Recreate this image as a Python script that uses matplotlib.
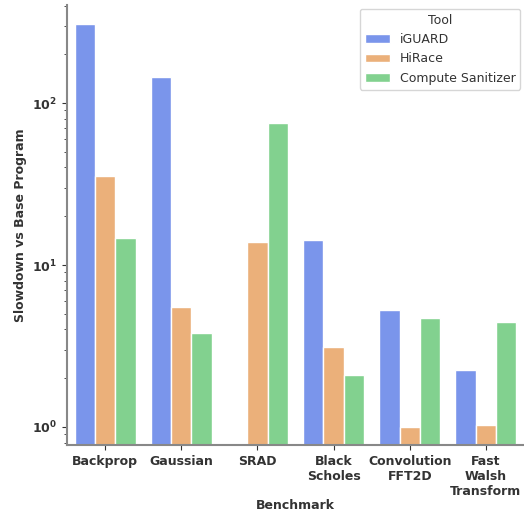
import matplotlib
matplotlib.use("Agg")
import matplotlib.pyplot as plt
import numpy as np
import pandas as pd
import seaborn as sns

# datos (slowdown, escala log)
benchmarks = ["Backprop", "Gaussian", "SRAD", "Black\nScholes", "Convolution\nFFT2D", "Fast\nWalsh\nTransform"]
tools = ["iGUARD", "HiRace", "Compute Sanitizer"]
iguard = [307, 145, np.nan, 14.3, 5.3, 2.25]
hirace = [35.4, 5.5, 13.9, 3.1, 1.0, 1.03]
compute_sanitizer = [14.7, 3.8, 75, 2.1, 4.7, 4.45]
colores = ["#7a95eb", "#ebb07a", "#82d18f"]

df = pd.DataFrame({
    "Benchmark": benchmarks * 3,
    "Tool": [t for t in tools for _ in benchmarks],
    "Slowdown": iguard + hirace + compute_sanitizer,
})

sns.set_style("ticks")
plt.rcParams["text.color"] = "#333333"
plt.rcParams["axes.labelcolor"] = "#333333"
plt.rcParams["xtick.color"] = "#333333"
plt.rcParams["ytick.color"] = "#333333"

fig = plt.figure(figsize=(5.24, 5.14), dpi=100)
ax = fig.add_axes([67 / 524, 1 - 445 / 514, 1 - 67 / 524, 440 / 514])

sns.barplot(data=df, x="Benchmark", y="Slowdown", hue="Tool", palette=colores,
            saturation=1, edgecolor="white", linewidth=1, ax=ax)

ax.set_yscale("log")
ax.set_ylim(0.774, 403)
ax.set_xlim(-0.5, 5.5)

ax.set_xlabel("Benchmark", fontsize=9, fontweight="bold", labelpad=1)
ax.set_ylabel("Slowdown vs Base Program", fontsize=9, fontweight="bold")
for lbl in ax.get_xticklabels() + ax.get_yticklabels():
    lbl.set_fontweight("bold")
    lbl.set_fontsize(9)

for lado in ["left", "bottom"]:
    ax.spines[lado].set_color("#888888")
    ax.spines[lado].set_linewidth(1.5)
sns.despine(ax=ax)

leg = ax.legend(title="Tool", loc="upper right", bbox_to_anchor=(1.0, 1.0),
                borderaxespad=0.3, fontsize=9, title_fontsize=9)

fig.savefig("out.png", dpi=100)
